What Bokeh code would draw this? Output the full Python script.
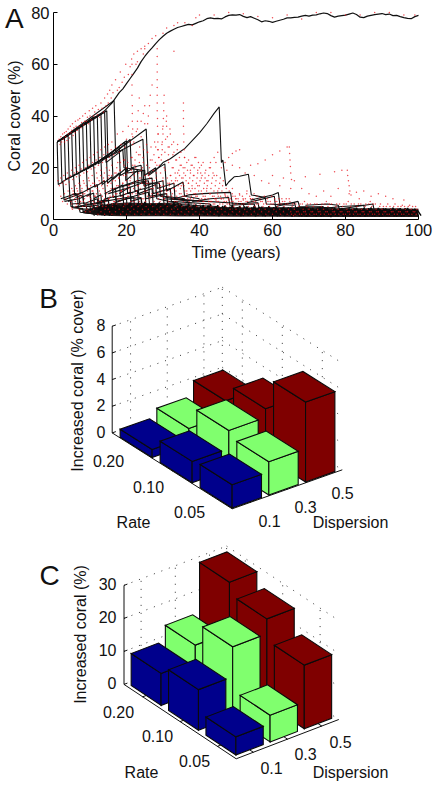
import math
from bokeh.embed import file_html
from bokeh.layouts import column
from bokeh.models import Range1d, FixedTicker
from bokeh.plotting import figure
from bokeh.resources import INLINE
from bokeh.core.properties import value

FONT = "Liberation Sans"

# ---------- panel A data: years, coral cover (%) ----------
TOP_T = [1,2,3,4,5,6,7,8,9,10,11,12,13,14,15,16,17,18,19,20,21,22,23,24,25,26,27,28,29,30,31,32,33,34,35,36,37,38,39,40,41,42,43,44,45,46,47,48,49,50,51,52,53,54,55,56,57,58,59,60,61,62,63,64,65,66,67,68,69,70,71,72,73,74,75,76,77,78,79,80,81,82,83,84,85,86,87,88,89,90,91,92,93,94,95,96,97,98,99,100]
TOP_Y = [30,30.8,31.5,32.5,33.5,34.5,35.5,36.5,37.5,38.5,39.5,40,41,42,43.5,45,47,49,50.5,52.5,54.5,56.5,58.5,61,63,64.8,66.3,68,69.5,70.8,72,72.8,73.5,74.2,74.6,75,75.4,75.2,75.8,76.4,76.8,77.6,77.9,77.6,77.7,77.5,78.3,78.9,79.1,79,79.2,78.5,78,78.4,77.8,77.2,76.4,76.8,76.6,76.2,76.6,77,77.4,77.9,77.9,78.1,78.2,78.6,78.9,78.6,79,79.1,79.5,79.8,79.6,78.8,78.2,78.6,78.8,79,79.4,79.8,79.2,78.2,78,78.6,78.9,79.2,79.4,79.6,79.2,79.4,78.8,78.9,78.4,78,77.7,77.6,78.4,78.9]

SAWTOOTH = [
 [(1,30),(1.3,13.5),(2.6,14.5),(2.9,7.5),(4.5,8.5),(4.8,5),(7,4.5),(7.3,2.8),(11,2.2),(11.2,1.4)],
 [(1,30),(2,30.8),(2.3,14.5),(4.2,16),(4.5,8.5),(6.5,9.5),(6.8,5),(9,5),(9.3,3),(12.5,2.5)],
 [(1,30),(3,31.5),(3.3,15.5),(5.5,17),(5.8,9.5),(8,10.5),(8.3,6),(11,6),(11.3,3),(14,2.5)],
 [(1,30),(4,32.5),(4.3,16),(7,18),(7.3,10),(10,12),(10.3,6),(13,6.5),(13.3,3),(17,3)],
 [(1,30),(5,33.5),(5.3,17),(9,19.5),(9.3,11.5),(12,13.5),(12.3,7),(15,7.5),(15.3,4),(19,3.5)],
 [(1,30),(6,34.5),(6.3,17.5),(11,21),(11.3,12.5),(14,15),(14.3,8),(17,9),(17.3,4.5),(22,4)],
 [(1,30),(7,35.5),(7.3,18.5),(13,23),(13.3,13.5),(16,16.5),(16.3,8.5),(19,9.5),(19.3,5),(24,4.5)],
 [(1,30),(8,36.5),(8.3,19),(14.5,24.5),(14.8,14),(18,18),(18.3,9),(21,10.5),(21.3,5),(27,4.5)],
 [(1,30),(9,37.5),(9.3,19.5),(16,26),(16.3,15.5),(20,20),(20.3,10),(23,11),(23.3,6),(29,5)],
 [(1,30),(10,38.5),(10.3,20.5),(18,28),(18.3,17),(22,20),(22.3,11),(25,12),(25.3,6),(30,5.5)],
 [(1,30),(11,39.5),(11.3,21),(19.5,30),(19.8,15),(23,19),(23.3,10),(27,12),(27.3,6),(33,5)],
 [(1,30),(12,40),(12.3,21.5),(20,30.5),(20.3,18),(25,19),(25.3,12),(28,13.5),(28.3,8),(35,6)],
 [(1,30),(13,41),(13.3,23),(24.5,31),(24.9,17),(28,20),(28.4,12),(33,14),(33.3,8),(41,7)],
 [(1,30),(14.6,42),(14.9,24),(25.4,35),(25.9,17.5),(30.5,21.5),(31,11),(35.5,14.5),(35.9,9),(40,8)],
 [(1,30),(16.6,46),(17,26),(21,31),(21.3,20),(24,21),(24.3,14),(29,14),(29.3,9),(37,7)],
 [(1,30),(14,41.5),(14.4,22),(19,27),(19.3,20),(24.5,19),(24.8,13),(30,15),(30.3,9),(36,8)],
 [(2,8),(4,9),(6,10),(8,9),(8.3,6),(11,5.5),(11.3,3.5),(16,3)],
 [(3,7),(7,8),(10,10),(10.3,5),(12,4),(12.3,2),(18,2.5)],
 [(5,6),(9,6.5),(12,8),(12.3,4),(16,4.5),(16.3,2.2),(22,2.5)],
 [(6,5),(10,5),(14,6),(14.3,3.5),(20,3.5)],
 [(7,4),(11,4),(15,5),(15.3,2.5),(24,3)],
 [(4,7),(5,7.5),(5.2,4.6),(8,4.2),(8.2,2.6),(12,2)],
 [(6,8.5),(7,9),(7.2,5.5),(10,5.2),(10.2,3.2),(14,2.6)],
 [(9,9),(11,10.2),(11.2,6),(14,6.6),(14.2,3.6),(18,3)],
 [(11,8),(13,9.6),(13.2,5.2),(16,6),(16.2,3.2),(21,3)],
 [(13,7),(15,8.4),(15.2,4.6),(18,5.4),(18.2,3),(23,3)],
 [(14,10),(17,12.2),(17.2,7),(20,8),(20.2,4),(26,3.6)],
 [(16,11),(19,13.4),(19.2,7.6),(22,8.8),(22.2,4.4),(28,4)],
 [(18,10),(21,12.6),(21.2,7),(24,8.2),(24.2,4.2),(30,4)],
 [(17,12),(22,14),(26,15),(26.3,9),(31,10),(31.3,6),(38,6)],
 [(19,13),(23,15),(27,16),(27.3,10),(32,12),(32.3,7),(43,6)],
 [(15,10),(20,12),(25,14.5),(25.3,8),(30,9.5),(30.3,6),(45,5)],
 [(26,17),(28,19),(30,22),(32,23.5),(34,25.5),(36,27.5),(38,30.5),(40,33.5),(42,37),(44,41),(45.4,43.5),(46,22),(46.4,23),(47.2,13),(48,14.5),(49.5,16.5),(51,16.7),(53.4,17.5),(54.2,9.5),(58,8.5),(58.3,6),(66,5.5)],
 [(33,8),(37,9.5),(41,10),(45,10.3),(48.5,10.5),(49,6),(56,6.5),(56.3,4.5),(70,4.5)],
 [(38,7),(43,8),(48,8.5),(48.3,5.5),(55,6),(55.3,4)],
 [(54,7.5),(57,8.5),(60,9.5),(61.6,10.4),(62,6),(66,6.5),(66.4,4.5),(74,5)],
 [(53,6.5),(56,7.5),(60.5,9),(60.8,5),(64,6),(67,7),(67.4,5),(76,4.5)],
 [(30,8),(36,7.5),(42,7),(50,6.3),(52,6),(52.3,4.2),(64,4)],
 [(69,5.5),(75,6),(78,5.5),(78.3,4),(87.5,6),(87.8,4)],
 [(72,4),(79,5),(85,5.5),(85.3,3.5),(95,4)],
 [(10,6),(14,7),(18,8),(22,9),(26,10.5),(26.3,6),(34,6.5),(34.3,4),(47,4)],
 [(12,3.2),(16,6),(20,8),(24,8.5),(24.3,5.5),(32,6),(32.3,3.8),(50,3.5)],
]

BAND_T0 = [12.0, 12.35, 12.7]
BAND_A = [1.6,5.5,1.4,6.0,1.5,6.3,1.7,5.8,1.5,6.5,1.6,6.2,1.4,6.8,1.8,6.0,1.5,6.6,1.7,6.1,1.5,6.4,1.6,5.9,1.4,6.2,1.7,5.8,1.6,5.6,1.5,5.9,1.4,5.5,1.7,5.4,1.5,5.6,1.6,5.2,1.4,5.0,1.6,5.3,1.5,4.9,1.3,5.1,1.5,4.8,1.4,4.9,1.6,4.6,1.4,4.8,1.3,4.7,1.5,4.4,1.2,4.6,1.4,4.3,1.0,4.5,1.3,4.4,1.5,4.2,1.2,4.5,1.3,4.3,1.4,4.6,1.2,4.4,1.3,4.2,1.4,4.5,1.2,4.3,1.3,4.4,1.4,4.1,1.3]
BAND_B = [4.8,1.7,5.2,1.5,5.6,1.8,5.0,1.6,5.9,1.7,5.4,1.5,6.0,1.6,5.6,1.8,5.8,1.4,5.2,1.7,5.5,1.5,5.7,1.6,5.3,1.4,5.6,1.7,5.1,1.5,5.4,1.6,5.0,1.3,5.2,1.5,4.9,1.6,4.7,1.4,5.0,1.5,4.6,1.3,4.8,1.4,4.5,1.5,4.7,1.3,4.4,1.4,4.6,1.2,4.3,1.4,4.5,1.3,4.2,1.5,4.4,1.2,4.1,1.3,4.3,1.4,4.2,1.2,4.0,1.3,4.2,1.4,4.1,1.2,4.3,1.3,4.0,1.2,4.2,1.4,4.1,1.3,4.0,1.2,4.3,1.3,4.1]
BAND_C = [2.2,4.2,2.0,4.6,2.4,4.9,2.1,4.4,2.6,5.0,2.2,4.8,2.5,5.2,2.1,4.6,2.4,5.0,2.0,4.7,2.3,4.4,2.1,4.8,2.4,4.5,2.0,4.3,2.3,4.6,2.1,4.2,2.2,4.4,2.0,4.1,2.3,4.3,1.9,4.0,2.2,4.2,1.8,3.9,2.1,3.8,2.0,4.0,1.7,3.7,2.0,3.9,1.8,3.6,2.0,3.8,1.7,3.5,1.9,3.7,1.6,3.6,1.8,3.4,1.6,3.6,1.9,3.4,1.7,3.7,1.6,3.5,1.8,3.3,1.6,3.5,1.7,3.6,1.5,3.4,1.8,3.3,1.6,3.5,1.7,3.4,1.6,3.6,1.5]
MASS_T = [8,12,16,20,25,30,35,40,50,60,70,80,90,100]
MASS_LOW = [2.6,1.6,1.4,1.3,1.3,1.3,1.2,1.2,1.1,1.1,1.0,1.0,1.0,1.0]
MASS_HIGH = [3.4,5.0,6.2,6.6,6.4,6.0,5.4,5.0,4.7,4.5,4.4,4.3,4.3,4.2]

RED_RISE = [(1.5,31),(1.8,29),(2,32),(2.2,30),(2.5,33),(2.7,31),(3,30),(3,33.5),(3.3,32),(3.5,34),(3.7,30.5),(4,35),(4.1,33),(4.4,31.5),(4.6,36),(4.8,33.5),(5,34.5),(5.2,37),(5.4,32.5),(5.6,35.5),(5.9,33.5),(6,38),(6.2,36),(6.5,34.5),(6.7,38.5),(7,36),(7.2,39),(7.5,35.5),(7.7,37.5),(8,40),(8.2,36.5),(8.5,38),(8.7,41),(9,38),(9.3,39.5),(9.6,37),(9.8,42),(10,40),(10.3,38.5),(10.7,43),(11,40),(11.3,41.5),(11.6,44),(12,40.5),(12.3,42.5),(12.7,39.5),(13,45),(13.3,43),(13.7,41.5),(14,47),(14.4,44),(14.8,48.5),(15,45),(15.4,50),(15.8,47),(16,52),(16.3,49),(17,54),(17.5,50),(18,51),(18.3,57),(18.8,53),(19.4,55),(19.8,60),(20.5,56),(21,59),(21.4,62),(22,64),(22.6,60),(23,61),(24,66),(24.6,64),(25,66),(26,68)]
RED_BAND2 = [(1.2,15),(1.6,13),(2,16),(2.4,14),(2.8,17),(3,15),(3.4,13.5),(3.8,18),(4,16),(4.3,14.5),(4.7,17),(5,19),(5.3,15.5),(5.7,18),(6,20),(6.3,16.5),(6.6,18.5),(7,21),(7.3,17),(7.6,19.5),(8,22),(8.3,18),(8.7,20),(9,23),(9.3,18.5),(9.7,21),(10,24),(10.3,19.5),(10.7,22),(11,25),(11.3,20),(11.7,23),(12,26),(12.3,21),(12.7,24),(13,27),(13.4,22),(13.8,25),(14,28),(14.4,23),(14.8,26),(15,29),(15.4,24),(15.8,27),(16,30),(16.5,25),(17,28),(17.5,33),(18,26),(18.5,29),(19,34),(19.5,28),(20,31),(20.5,36),(21,30),(21.5,33),(22,30),(23,35),(23.6,28),(24,32),(25,37),(25.5,29)]
RED_BAND3 = [(2,9),(2.5,7),(3,10),(3.4,8),(3.8,6),(4,11),(4.4,9),(4.8,7),(5,12),(5,4.5),(5.4,10),(5.8,8),(6,13),(6.3,6),(6.6,11),(7,9),(7,14),(7.4,7),(7.8,12),(8,10),(8.2,15),(8.5,8),(8.9,5),(9,13),(9.3,11),(9.6,16),(9.9,7),(10,9),(10.2,13),(10.6,17),(10.8,11),(11,6),(11.2,14),(11.5,9),(11.8,18),(12,12),(12.2,7),(12.5,15),(12.8,10),(13,19),(13.2,13),(13.4,5),(13.7,16),(14,8),(14.2,11),(14.5,20),(14.8,14),(15,6),(15.2,17),(15.5,9),(15.8,12),(16,21),(16.2,15),(16.5,7),(16.8,18),(17,10),(17.3,13),(17.6,22),(17.9,16),(18,8),(18.3,19),(18.6,11),(19,14),(19.2,23),(19.5,6),(19.8,17),(20,20),(20.3,9),(20.6,12),(21,15),(21.3,24),(21.6,18),(22,7),(22.3,21),(22.6,10),(23,13),(23.3,25),(23.6,16),(24,19),(24.3,8),(24.6,22),(25,11),(25.4,14),(25.8,26),(26,17),(26.3,20),(26.7,9),(27,23),(27.3,12),(27.6,15),(28,28),(28.2,18),(28.6,10),(29,21),(29.3,13),(29.6,25),(30,16),(30.3,8),(30.6,19),(31,11),(31.4,23),(31.8,14),(32,17),(32.4,9),(32.8,20),(33,12),(33.4,15),(33.8,7),(34,18),(34.5,10),(35,13),(35.5,16),(36,9),(36.5,11),(37,14),(37.5,8),(38,12),(38.5,10),(39,9),(39.5,13),(40,7.5),(40.5,11),(41,9),(41.5,8),(42,12),(42.5,7),(43,10),(44,9),(44.5,7.5),(45,11),(46,8),(47,9.5),(48,7.5),(49,12),(50,8),(51,9.5),(52,7.5),(53,11),(54,8)]
RED_COLUMNS = [(28.4,66),(28.4,63),(28.4,60),(28.4,57),(28.4,54),(28.4,51),(28.4,48),(28.4,45),(28.4,42),(28.5,39),(28.5,36),(28.6,33),(28.6,30),(28.7,27),(28.8,24),(21.5,60),(21.5,56),(21.5,52),(21.5,48),(21.6,44),(21.6,41),(21.6,38),(21.7,35),(21.7,32),(21.7,29),(35.6,45),(35.6,42),(35.6,39),(35.6,36),(35.7,33),(35.7,30),(35.8,27),(35.9,24),(30.3,48),(30.2,45),(30.2,42),(30.1,39),(30,36),(30,33),(29.8,30),(29.8,27),(27,52),(26.5,48),(26.3,44),(26,40),(25.8,37),(25,44),(24.6,41),(24,38),(23.5,47),(23.2,42),(23,38),(22.7,34),(31,40),(31,36),(31.2,32),(31.4,28),(31.5,25),(32,33),(32.4,29),(33,26),(33.5,23),(34,29),(34.5,24),(35,21),(36,20),(37,23),(37.5,19),(38,21),(38.5,17),(39,24),(39.5,18),(40,20),(40.5,16),(41,22),(41.5,18),(42,15),(43,20),(44,17),(44.5,22),(64.6,28),(64.7,25.5),(64.8,23),(64.9,20.5),(65,18),(65.2,15.5),(80.5,19),(80.6,17),(80.8,15),(81,13),(81.2,11),(81.5,9.5)]
RED_TRAILS = [(46,20),(47,22),(48,24),(49,25.5),(50,26.5),(51,27),(54,21),(56,21.5),(58,23),(60,25),(62,26.5),(64,28),(66,15),(69,16.5),(73,17.5),(77,18.5),(79,19),(44,24),(45,26),(43,22),(47.5,19),(49,21),(51,20),(52.5,18),(55,17),(57,15),(59,14),(60,17),(62,13),(63,16),(65,12),(68,12),(70,10),(72,9),(74,11),(76,9),(78,12),(81,10),(83,10.5),(85,11),(87,9),(89,10),(91,9),(93,8),(96,7.5),(33,65),(36,76),(38,75),(39,78),(40,79),(44,79),(48,80),(52,79.5),(56,78.5),(60,78),(64,79),(68,77.5),(72,80),(76,80),(80,79),(84,79),(88,80),(92,80),(96,79),(99,79),(30,72),(31,74),(33,75),(34,76),(27,70),(28,71),(25,67),(23,65)]
# scatter of the outbreak runs: a year, then the cover of its dots
RED_YEARS = [
 (5,[6,4,11,9]),(6,[7,5,12,8,10]),(7,[4,6,13,9,11]),(8,[5,7,14,10,3]),(9,[6,4,9,12,15]),(10,[3,8,5,11,14,7]),(11,[4,9,6,13,10,16]),(12,[5,2,8,11,14,17,7]),(13,[3,6,9,12,15,18,4]),(14,[2,7,5,10,13,16,8,19]),
 (15,[4,8,3,11,14,17,6,9]),(16,[2,5,9,12,7,15,18,20]),(17,[3,6,10,8,13,16,19,22,11]),(18,[4,7,2,11,9,14,17,21,23]),(19,[3,5,8,12,10,15,18,22,13]),(20,[2,6,4,9,13,11,16,19,24,21]),(21,[3,7,5,10,14,12,17,23,20,26]),(22,[4,2,8,6,11,15,13,18,22,25]),(23,[3,5,9,7,12,16,14,20,24,27]),(24,[2,6,4,10,8,13,17,15,21,26]),
 (25,[3,7,5,11,9,14,18,16,23,28]),(26,[4,2,8,6,12,10,15,19,25,30,22]),(27,[3,5,9,7,13,11,16,21,27,33,24]),(28,[2,6,4,10,8,14,12,18,23,29,35]),(29,[3,7,5,11,9,15,13,20,26,31,38]),(30,[4,2,8,6,12,10,16,14,22,28,35]),(31,[3,5,9,7,13,11,17,15,20,25,30]),(32,[2,6,4,10,8,14,12,18,16,23,27]),(33,[3,7,5,11,9,15,13,19,17,21,26]),(34,[4,2,8,6,12,10,16,14,20,18,24]),
 (35,[3,5,9,7,13,11,17,15,22,19]),(36,[2,6,4,10,8,14,12,16,18,21]),(37,[3,7,5,11,9,13,15,17,20,24]),(38,[4,2,8,6,12,10,14,16,19,22]),(39,[3,5,9,7,11,13,15,18,21,17]),(40,[2,6,4,8,10,7,12,14,16,19]),(41,[3,7,5,9,6,11,13,15,17,20]),(42,[4,2,8,6,10,7,12,14,16,18]),(43,[3,5,7,9,6,11,8,13,15,17]),(44,[2,6,4,8,7,10,9,12,14,16]),
 (45,[3,7,5,6,9,8,11,13,15]),(46,[4,2,6,8,7,10,9,12]),(47,[3,5,7,6,9,8,11]),(48,[2,6,4,8,7,10,9]),(49,[3,7,5,6,9,8]),(50,[4,2,6,8,7,10]),(51,[3,5,7,6,9,8]),(52,[2,6,4,8,7,10]),(53,[3,7,5,6,9,8]),(54,[4,2,6,8,7,10]),
 (55,[3,5,7,6,9]),(56,[2,6,4,8,7]),(57,[3,7,5,6,9]),(58,[4,2,6,8,7]),(59,[3,5,7,6,9]),(60,[2,6,4,8,7]),(61,[3,7,5,6,8]),(62,[4,2,6,8,7]),(63,[3,5,7,6,8]),(64,[2,6,4,8,7]),
 (65,[3,2,5,6,1.5]),(66,[4,2,6,3]),(67,[3,5,2,6]),(68,[2,6,4,3,7]),(69,[3,2,5,6]),(70,[4,2,6,3]),(71,[3,5,2,6]),(72,[2,6,4,3]),(73,[3,2,5,6]),(74,[4,2,6,3,7]),
 (75,[3,5,2,6]),(76,[2,6,4,3]),(77,[3,2,5,6]),(78,[4,2,6,3]),(79,[3,5,2,6]),(80,[2,6,4,3,7]),(81,[3,2,5,6]),(82,[4,2,6,3]),(83,[3,5,2,6,8]),(84,[2,6,4,3]),
 (85,[3,2,5,6]),(86,[4,2,6,3,7]),(87,[3,5,2,6]),(88,[2,6,4,3]),(89,[3,2,5,6]),(90,[4,2,5,3]),(91,[3,5,2,6]),(92,[2,5,4,3]),(93,[3,5,2,6]),(94,[4,2,5,3]),
 (95,[3,5,2,5.5]),(96,[2,5,4,3]),(97,[3,5,2,5.5]),(98,[4,2,5,3]),(99,[3,5,2,4]),
]

# ---------- panels B and C data ----------
RATE_LABELS = ["0.05", "0.10", "0.20"]
DISPERSION_LABELS = ["0.1", "0.3", "0.5"]
BLUE_B = [1.75, 1.6, 0.6]
GREEN_B = [2.5, 2.95, 1.2]
RED_B = [6.0, 3.6, 2.3]
BLUE_C = [5.5, 12.3, 9.7]
GREEN_C = [8.1, 21.3, 14.3]
RED_C = [19.3, 25.8, 29.4]
Z_TICKS_B = [0, 2, 4, 6, 8]
Z_TICKS_C = [0, 10, 20, 30]
BAR_COLORS = ["#00008c", "#80ff6e", "#7f0000"]

# ---------- panel A: the frame fills the figure, the axes sit on t=0 and cover=0 ----------
XS = 3.65    # px per year
YS = 2.5875  # px per % cover
p = figure(frame_width=435, frame_height=270,
           x_range=Range1d(-53 / XS, 382 / XS), y_range=Range1d(-51 / YS, 219 / YS),
           output_backend="svg", toolbar_location=None,
           min_border=0, min_border_left=0, min_border_right=0, min_border_top=0, min_border_bottom=0)
p.outline_line_color = None
p.grid.visible = False
for ax, label, ticks in ((p.xaxis[0], "Time (years)", [0, 20, 40, 60, 80, 100]),
                         (p.yaxis[0], "Coral cover (%)", [0, 20, 40, 60, 80])):
    ax.fixed_location = 0
    ax.bounds = (ticks[0], ticks[-1])
    ax.axis_label = label
    ax.ticker = FixedTicker(ticks=ticks)
    ax.major_tick_in = 4
    ax.major_tick_out = 0
    ax.minor_tick_line_color = None
    ax.axis_line_color = "black"
    ax.major_tick_line_color = "black"
    ax.major_label_text_font = FONT
    ax.major_label_text_font_size = "16.5px"
    ax.major_label_text_color = "#111111"
    ax.major_label_standoff = 4
    ax.axis_label_text_font = FONT
    ax.axis_label_text_font_style = "normal"
    ax.axis_label_text_font_size = "16px"
    ax.axis_label_text_color = "#111111"
    ax.axis_label_standoff = 5

p.varea(MASS_T, MASS_LOW, MASS_HIGH, fill_color="#140404", fill_alpha=0.92)
for line in SAWTOOTH:
    p.line([q[0] for q in line], [q[1] for q in line], line_color="#111111", line_width=1.1)
for t0, ys in zip(BAND_T0, (BAND_A, BAND_B, BAND_C)):
    p.line([t0 + i for i in range(len(ys))], ys, line_color="#0a0a0a", line_width=1.4)
p.line(TOP_T, TOP_Y, line_color="#111111", line_width=1.2)

red = RED_RISE + RED_BAND2 + RED_BAND3 + RED_COLUMNS + RED_TRAILS
for t, ys in RED_YEARS:
    red = red + [(t + 0.19 * i, y) for i, y in enumerate(ys)]
p.scatter([q[0] for q in red], [q[1] for q in red], marker="circle", size=1.5,
          fill_color="#e8101a", line_color=None, fill_alpha=0.75)
p.text([-10.7], [77.5], text=["A"], text_font=value(FONT), text_font_size=value("28px"),
       text_color="#111111", text_align="center", text_baseline="middle")


def panel(y_top, y_bottom, letter, letter_xy, O, RV, DV, ZS, offset, zticks, heights,
          ylabel, ylabel_xy, zlabel_right, rate_xy, disp_xy, rate_title_xy, disp_title_xy):
    f = figure(frame_width=435, frame_height=y_bottom - y_top, x_range=Range1d(0, 435),
               y_range=Range1d(y_bottom, y_top), output_backend="svg", toolbar_location=None,
               x_axis_location=None, y_axis_location=None,
               min_border=0, min_border_left=0, min_border_right=0, min_border_top=0,
               min_border_bottom=0)
    f.outline_line_color = None
    f.grid.visible = False

    def proj(r, d, z):
        return (O[0] + r * RV[0] + d * DV[0], O[1] + r * RV[1] + d * DV[1] - z * ZS)

    top = zticks[-1]
    gx, gy = [], []

    def seg(a, b):
        gx.append([a[0], b[0]])
        gy.append([a[1], b[1]])

    for z in zticks:
        seg(proj(3, 0, z), proj(3, 3, z))
        seg(proj(3, 3, z), proj(0, 3, z))
    for c in (0.5, 1.5, 2.5):
        seg(proj(3, c, 0), proj(3, c, top))
        seg(proj(c, 3, 0), proj(c, 3, top))
        seg(proj(c, 0, 0), proj(c, 3, 0))
        seg(proj(0, c, 0), proj(3, c, 0))
    seg(proj(3, 3, 0), proj(3, 3, top))
    f.multi_line(gx, gy, line_color="#333333", line_width=1, line_dash="1 7")

    ax_x, ax_y = [], []

    def aseg(a, b):
        ax_x.append([a[0], b[0]])
        ax_y.append([a[1], b[1]])

    aseg(proj(3, 0, 0), proj(3, 0, top))
    aseg(proj(3, 0, 0), proj(0, 0, 0))
    aseg(proj(0, 0, 0), proj(0, 3, 0))
    for z in zticks:
        aseg(proj(3, 0, z), proj(3, 0.1, z))
    for c in (0.5, 1.5, 2.5):
        aseg(proj(c, 0, 0), proj(c, 0.1, 0))
        aseg(proj(0, c, 0), proj(0.1, c, 0))
    f.multi_line(ax_x, ax_y, line_color="#111111", line_width=1)

    order = sorted(((r, d) for r in range(3) for d in range(3)), key=lambda k: -(k[0] + k[1]))
    w = 0.8
    xs, ys, cols = [], [], []
    for r, d in order:
        h = heights[d][r]
        r0, d0 = r + offset, d + offset
        faces = [
            [proj(r0, d0, 0), proj(r0 + w, d0, 0), proj(r0 + w, d0, h), proj(r0, d0, h)],
            [proj(r0, d0, 0), proj(r0, d0 + w, 0), proj(r0, d0 + w, h), proj(r0, d0, h)],
            [proj(r0, d0, h), proj(r0 + w, d0, h), proj(r0 + w, d0 + w, h), proj(r0, d0 + w, h)],
        ]
        for face in faces:
            xs.append([q[0] for q in face])
            ys.append([q[1] for q in face])
            cols.append(BAR_COLORS[d])
    f.patches(xs, ys, fill_color=cols, line_color="#0a0a0a", line_width=1.1, line_join="miter")

    def txt(x, y, s, align="center", angle=0.0, size="16px"):
        f.text([x], [y], text=[s], text_font=value(FONT), text_font_size=value(size),
               text_color="#111111", text_align=align, text_baseline="middle", angle=angle)

    for z in zticks:
        txt(zlabel_right, proj(3, 0, z)[1] - 1, str(z), align="right")
    for s, xy in zip(RATE_LABELS, rate_xy):
        txt(xy[0], xy[1], s)
    for s, xy in zip(DISPERSION_LABELS, disp_xy):
        txt(xy[0], xy[1], s)
    txt(rate_title_xy[0], rate_title_xy[1], "Rate")
    txt(disp_title_xy[0], disp_title_xy[1], "Dispersion")
    txt(ylabel_xy[0], ylabel_xy[1], ylabel, angle=math.pi / 2)
    txt(letter_xy[0], letter_xy[1], letter, size="28px")
    return f


b = panel(270, 530, "B", (48, 298), (231.7, 508.3), (-40, -25.3), (36.7, -13), 13.33, 0.02,
          Z_TICKS_B, [BLUE_B, GREEN_B, RED_B], "Increased coral (% cover)", (77, 380), 105,
          [(189, 511), (148, 486), (108, 460)], [(269, 520), (305, 506), (342, 492)],
          (133, 522), (350, 522))
c = panel(530, 785, "C", (49, 575), (235.7, 758.3), (-37.4, -24.8), (34.2, -13.1), 3.3, 0.1,
          Z_TICKS_C, [BLUE_C, GREEN_C, RED_C], "Increased coral (%)", (80, 634), 116,
          [(194, 760), (157, 735), (118, 711)], [(271, 767), (305, 753), (340, 741)],
          (141, 772), (350, 772))

page = column(p, b, c, spacing=0)
open("out.html", "w").write(file_html(page, INLINE))
